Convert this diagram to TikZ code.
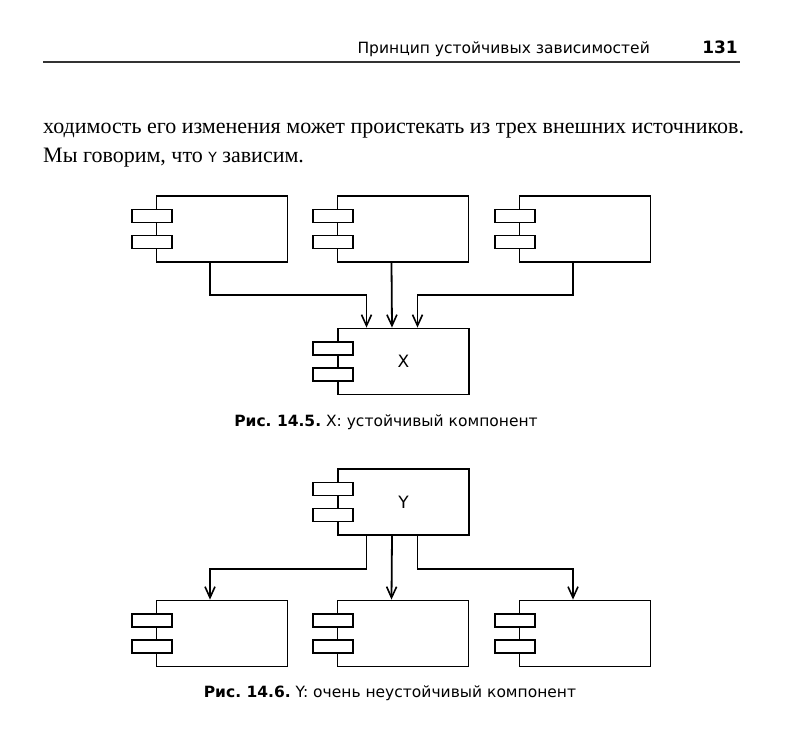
\documentclass[tikz,border=0pt]{standalone}
\usepackage{fontspec}
\setmainfont{Liberation Serif}
\setsansfont{DejaVu Sans}
\usetikzlibrary{arrows.meta, calc}

\tikzset{
  comp/.style={draw, line width=1.8pt, minimum width=131pt, minimum height=66pt,
    inner sep=0pt, font=\sffamily\fontsize{17}{17}\selectfont},
  tabbox/.style={draw, fill=white, line width=1.8pt},
  dep/.style={-{Straight Barb[length=11pt, width=10pt, line width=1.6pt]}, line width=1.8pt},
  headfont/.style={font=\sffamily\fontsize{15.5}{15.5}\selectfont},
  bodyfont/.style={font=\fontsize{22}{22}\selectfont, inner sep=0pt},
}

\begin{document}
\frenchspacing
\begin{tikzpicture}[x=1pt, y=-1pt]
\useasboundingbox (0,0) rectangle (804,734);
% running head
\node[headfont, anchor=base east, inner sep=0pt] (head) at (650,53) {Принцип устойчивых зависимостей};
\node[font=\sffamily\bfseries\fontsize{17}{17}\selectfont, anchor=base east, inner sep=0pt] (page) at (738,53) {131};
\coordinate (rulel) at (43,62);
\coordinate (ruler) at (740,62);
\draw[line width=1.2pt, black!80] (rulel) -- (ruler);
% body text
\node[bodyfont, anchor=base west] (line1) at (43,133) {ходимость его изменения может проистекать из трех внешних источников.};
\node[bodyfont, anchor=base west] (line2) at (43,162) {Мы говорим, что {\sffamily\fontsize{14}{14}\selectfont Y} зависим.};

% fig 14.5: three sources above X
\node[comp] (a1) at (222,229) {};
\node[comp] (a2) at (403,229) {};
\node[comp] (a3) at (585,229) {};
\node[comp] (x) at (403.5,361.5) {X};
% fig 14.6: Y above three targets
\node[comp] (y) at (403.5,502) {Y};
\node[comp] (b1) at (222,633.5) {};
\node[comp] (b2) at (403,633.5) {};
\node[comp] (b3) at (585,633.5) {};

% component tabs
\foreach \n in {a1,a2,a3,x,y,b1,b2,b3} {
  \draw[tabbox] ($(\n.west)+(-24,-19.5)$) rectangle ++(40,13);
  \draw[tabbox] ($(\n.west)+(-24,6.5)$) rectangle ++(40,13);
}

% dependencies into X
\draw[dep] ([xshift=-12pt]a1.south) -- ++(0,32) -| ([xshift=-37pt]x.north);
\draw[dep] ([xshift=-11.5pt]a2.south) -- ([xshift=-11.5pt]x.north);
\draw[dep] ([xshift=-12pt]a3.south) -- ++(0,32) -| ([xshift=14pt]x.north);
% dependencies out of Y
\draw[dep] ([xshift=-37pt]y.south) -- ++(0,33) -| ([xshift=-12pt]b1.north);
\draw[dep] ([xshift=-11.5pt]y.south) -- ([xshift=-11.5pt]b2.north);
\draw[dep] ([xshift=14pt]y.south) -- ++(0,33) -| ([xshift=-12pt]b3.north);

% captions
\node[headfont] (cap1) at (386,422) {\textbf{Рис. 14.5.} X: устойчивый компонент};
\node[headfont] (cap2) at (390,693) {\textbf{Рис. 14.6.} Y: очень неустойчивый компонент};
\end{tikzpicture}
\end{document}
